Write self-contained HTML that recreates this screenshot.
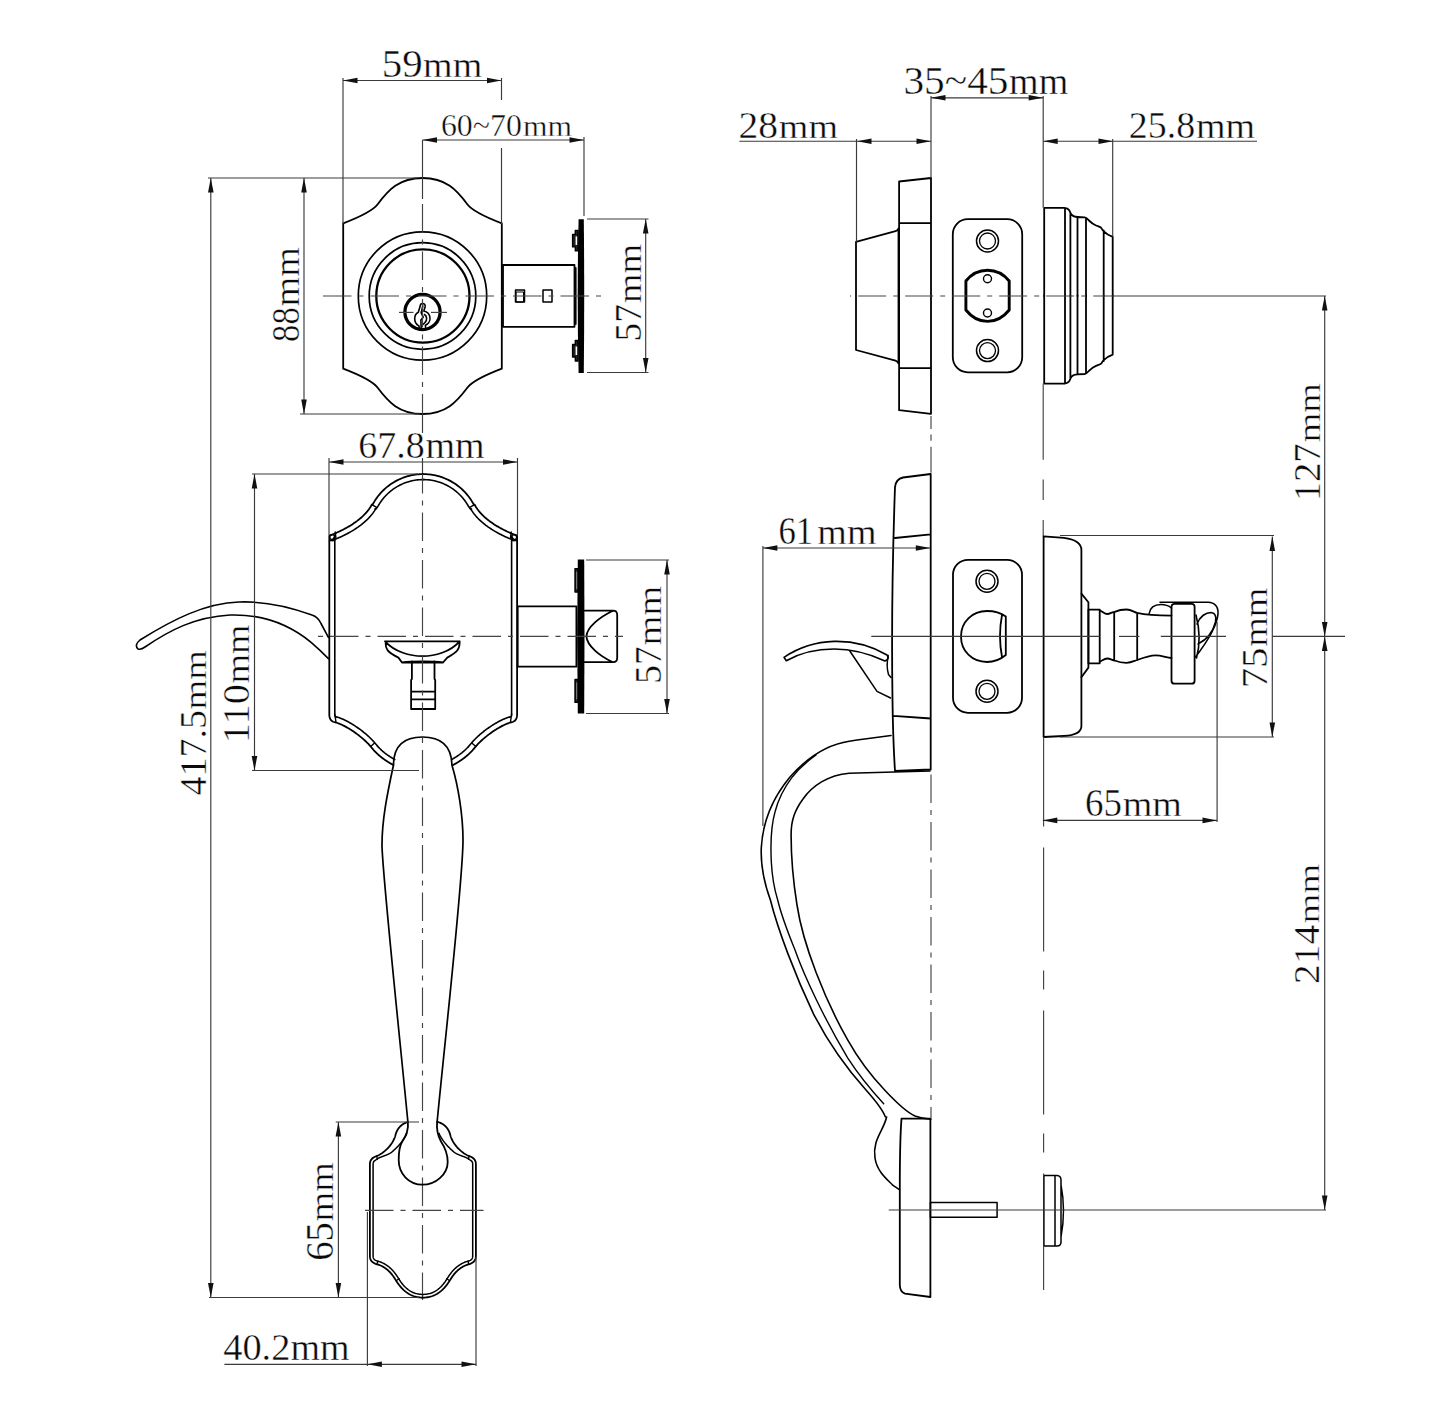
<!DOCTYPE html>
<html><head><meta charset="utf-8"><style>
html,body{margin:0;padding:0;background:#fff;}
svg{display:block;}
text{font-family:"Liberation Serif",serif;}
</style></head><body>
<svg width="1445" height="1411" viewBox="0 0 1445 1411">
<rect width="1445" height="1411" fill="#fff"/>
<path d="M 343.2 296 L 343.2 223.3 C 355.2 218.7 372.3 211.4 377.7 204.2 C 388.3 190 399 178 422.5 178" stroke="#000" stroke-width="1.8" fill="none" stroke-linejoin="round" stroke-linecap="round"/><g transform="matrix(1 0 0 -1 0 592)"><path d="M 343.2 296 L 343.2 223.3 C 355.2 218.7 372.3 211.4 377.7 204.2 C 388.3 190 399 178 422.5 178" stroke="#000" stroke-width="1.8" fill="none" stroke-linejoin="round" stroke-linecap="round"/></g>
<g transform="matrix(-1 0 0 1 845.0 0)"><path d="M 343.2 296 L 343.2 223.3 C 355.2 218.7 372.3 211.4 377.7 204.2 C 388.3 190 399 178 422.5 178" stroke="#000" stroke-width="1.8" fill="none" stroke-linejoin="round" stroke-linecap="round"/><g transform="matrix(1 0 0 -1 0 592)"><path d="M 343.2 296 L 343.2 223.3 C 355.2 218.7 372.3 211.4 377.7 204.2 C 388.3 190 399 178 422.5 178" stroke="#000" stroke-width="1.8" fill="none" stroke-linejoin="round" stroke-linecap="round"/></g></g>
<circle cx="422.5" cy="296" r="64.2" stroke="#000" stroke-width="1.7" fill="none" stroke-linejoin="round" stroke-linecap="round"/>
<circle cx="422.5" cy="296" r="53.3" stroke="#000" stroke-width="1.7" fill="none" stroke-linejoin="round" stroke-linecap="round"/>
<circle cx="422.9" cy="296" r="46.6" stroke="#000" stroke-width="2.3" fill="none" stroke-linejoin="round" stroke-linecap="round"/>
<circle cx="422.5" cy="312" r="17.6" stroke="#000" stroke-width="3.3" fill="none"/>
<path d="M 422.5 303.5 C 424.5 303.5 425.5 305 425.1 307 L 423.8 311 C 426 311.5 429.5 313.5 430 317.7 C 430.5 321 428 324 425.4 325.2 L 425.8 329.5 M 422.5 303.5 C 421 303.5 420.3 305 420.2 306 L 418.3 312.2 C 416.5 313 414.7 315 414.7 318.7 C 414.7 321.5 416.5 324.5 418.9 325.9 L 419.6 330.1 M 422.8 306 L 421.2 312.8 L 423.2 317.2 L 420.9 320 L 421.2 330.1 M 424.5 314.5 C 427 316 427.5 320 425 322.5 L 423 324.5" stroke="#000" stroke-width="1.6" fill="none" stroke-linejoin="round" stroke-linecap="round"/>
<rect x="503" y="265" width="71.5" height="61.8" stroke="#000" stroke-width="1.8" fill="none" stroke-linejoin="round" stroke-linecap="round"/>
<rect x="515.5" y="290" width="9" height="12" stroke="#000" stroke-width="1.5" fill="none" stroke-linejoin="round" stroke-linecap="round"/>
<rect x="516.5" y="292" width="7" height="10" stroke="#000" stroke-width="1" fill="none" stroke-linejoin="round" stroke-linecap="round"/>
<rect x="543" y="290" width="9" height="12" stroke="#000" stroke-width="1.5" fill="none" stroke-linejoin="round" stroke-linecap="round"/>
<line x1="575.7" y1="268" x2="575.7" y2="324" stroke="#000" stroke-width="1.8" fill="none" stroke-linejoin="round" stroke-linecap="round" />
<path d="M 578.6 219.3 Q 576.8 296 578.6 373 L 583.8 373 Q 584.6 296 583.8 219.3 Z" fill="#000"/>
<path d="M 578 230.4 L 575.3 230.4 L 575.3 234.4 L 572.6 234.4 L 572.6 246.9 L 575.3 246.9 L 575.3 250.9 L 578 250.9 Z" stroke="#000" stroke-width="1.4" stroke-linejoin="round" stroke-linecap="round" fill="#222"/>
<rect x="575.6" y="236.4" width="1.6" height="8.5" fill="#fff"/>
<path d="M 578 340.5 L 575.3 340.5 L 575.3 344.5 L 572.6 344.5 L 572.6 357 L 575.3 357 L 575.3 361 L 578 361 Z" stroke="#000" stroke-width="1.4" stroke-linejoin="round" stroke-linecap="round" fill="#222"/>
<rect x="575.6" y="346.5" width="1.6" height="8.5" fill="#fff"/>
<line x1="323" y1="296" x2="604" y2="296" stroke="#444" stroke-width="1.15" fill="none" stroke-dasharray="28.5 7 5 7" stroke-dashoffset="0.00"/>
<line x1="399" y1="312.4" x2="413.5" y2="312.4" stroke="#444" stroke-width="1.15" fill="none" />
<line x1="431" y1="312.4" x2="447" y2="312.4" stroke="#444" stroke-width="1.15" fill="none" />
<line x1="422.5" y1="140" x2="422.5" y2="199" stroke="#3a3a3a" stroke-width="1.15" fill="none" />
<line x1="422.5" y1="199" x2="422.5" y2="414" stroke="#444" stroke-width="1.15" fill="none" stroke-dasharray="28.5 7 5 7" stroke-dashoffset="42.50"/>
<line x1="422.5" y1="414" x2="422.5" y2="433" stroke="#3a3a3a" stroke-width="1.15" fill="none" />
<line x1="422.5" y1="458" x2="422.5" y2="474" stroke="#3a3a3a" stroke-width="1.15" fill="none" />
<line x1="343" y1="78" x2="343" y2="224" stroke="#3a3a3a" stroke-width="1.15" fill="none" />
<line x1="501.5" y1="78" x2="501.5" y2="100" stroke="#3a3a3a" stroke-width="1.15" fill="none" />
<line x1="501.5" y1="148" x2="501.5" y2="224" stroke="#3a3a3a" stroke-width="1.15" fill="none" />
<line x1="343" y1="80.5" x2="501.5" y2="80.5" stroke="#3a3a3a" stroke-width="1.15" fill="none" />
<polygon points="343.0,80.5 357.5,77.7 357.5,83.3" fill="#111"/>
<polygon points="501.5,80.5 487.0,77.7 487.0,83.3" fill="#111"/>
<text x="381.73" y="76.6" textLength="40.85" lengthAdjust="spacingAndGlyphs" fill="#0a0a0a" stroke="#fff" stroke-width="0.4"><tspan font-size="39.15">59</tspan></text>
<text x="423.10" y="76.6" textLength="59.19" lengthAdjust="spacingAndGlyphs" fill="#0a0a0a" stroke="#fff" stroke-width="0.4"><tspan font-size="36.31">mm</tspan></text>
<line x1="422.5" y1="140" x2="584" y2="140" stroke="#3a3a3a" stroke-width="1.15" fill="none" />
<polygon points="422.5,140.0 437.0,137.2 437.0,142.8" fill="#111"/>
<polygon points="584.0,140.0 569.5,137.2 569.5,142.8" fill="#111"/>
<line x1="584" y1="137" x2="584" y2="216" stroke="#3a3a3a" stroke-width="1.15" fill="none" />
<text x="440.93" y="136.1" textLength="80.88" lengthAdjust="spacingAndGlyphs" fill="#0a0a0a" stroke="#fff" stroke-width="0.4"><tspan font-size="31.41">60~70</tspan></text>
<text x="522.94" y="136.1" textLength="49.05" lengthAdjust="spacingAndGlyphs" fill="#0a0a0a" stroke="#fff" stroke-width="0.4"><tspan font-size="29.72">mm</tspan></text>
<line x1="304" y1="178" x2="304" y2="414" stroke="#3a3a3a" stroke-width="1.15" fill="none" />
<polygon points="304.0,178.0 301.2,192.5 306.8,192.5" fill="#111"/>
<polygon points="304.0,414.0 301.2,399.5 306.8,399.5" fill="#111"/>
<line x1="208" y1="178" x2="417" y2="178" stroke="#3a3a3a" stroke-width="1.15" fill="none" />
<line x1="300" y1="414" x2="420" y2="414" stroke="#3a3a3a" stroke-width="1.15" fill="none" />
<text transform="translate(299.3,340.6) rotate(-90)" x="-1.32" y="0" textLength="34.64" lengthAdjust="spacingAndGlyphs" fill="#0a0a0a" stroke="#fff" stroke-width="0.4"><tspan font-size="39.45">88</tspan></text>
<text transform="translate(299.3,340.6) rotate(-90)" x="34.20" y="0" textLength="59.19" lengthAdjust="spacingAndGlyphs" fill="#0a0a0a" stroke="#fff" stroke-width="0.4"><tspan font-size="34.82">mm</tspan></text>
<line x1="645.7" y1="219" x2="645.7" y2="372.5" stroke="#3a3a3a" stroke-width="1.15" fill="none" />
<polygon points="645.7,219.0 642.9,233.5 648.5,233.5" fill="#111"/>
<polygon points="645.7,372.5 642.9,358.0 648.5,358.0" fill="#111"/>
<line x1="587" y1="219" x2="648.5" y2="219" stroke="#3a3a3a" stroke-width="1.15" fill="none" />
<line x1="587" y1="372.5" x2="648.5" y2="372.5" stroke="#3a3a3a" stroke-width="1.15" fill="none" />
<text transform="translate(640.8,339.3) rotate(-90)" x="-2.17" y="0" textLength="37.35" lengthAdjust="spacingAndGlyphs" fill="#0a0a0a" stroke="#fff" stroke-width="0.4"><tspan font-size="38.39">57</tspan></text>
<text transform="translate(640.8,339.3) rotate(-90)" x="36.30" y="0" textLength="59.19" lengthAdjust="spacingAndGlyphs" fill="#0a0a0a" stroke="#fff" stroke-width="0.4"><tspan font-size="33.76">mm</tspan></text>
<path d="M 423.20 474.10 L 421.64 474.12 L 420.08 474.19 L 418.52 474.29 L 416.97 474.44 L 415.42 474.63 L 413.87 474.87 L 412.34 475.14 L 410.81 475.46 L 409.29 475.82 L 407.78 476.22 L 406.28 476.66 L 404.80 477.14 L 403.33 477.66 L 401.87 478.22 L 400.43 478.83 L 399.01 479.47 L 397.60 480.15 L 396.22 480.86 L 394.85 481.62 L 393.50 482.41 L 392.18 483.24 L 390.88 484.10 L 389.61 485.00 L 388.36 485.94 L 387.13 486.91 L 385.93 487.91 L 384.76 488.94 L 383.62 490.01 L 382.51 491.10 L 381.43 492.23 L 380.38 493.38 L 379.36 494.56 L 378.37 495.77 L 377.42 497.01 L 376.50 498.27 L 375.61 499.56 L 374.77 500.87 L 373.95 502.20 L 373.18 503.56 L 372.44 504.93 L 371.80 504.60 L 371.15 505.78 L 370.45 506.94 L 369.72 508.08 L 368.94 509.19 L 368.13 510.28 L 367.28 511.36 L 366.40 512.40 L 365.48 513.43 L 364.53 514.44 L 363.56 515.42 L 362.55 516.39 L 361.52 517.33 L 360.47 518.25 L 359.40 519.15 L 358.30 520.04 L 357.19 520.90 L 356.05 521.74 L 354.91 522.56 L 353.75 523.36 L 352.58 524.14 L 351.39 524.90 L 350.20 525.64 L 349.00 526.36 L 347.80 527.06 L 346.60 527.75 L 345.39 528.41 L 344.18 529.06 L 342.98 529.68 L 341.78 530.29 L 340.58 530.88 L 339.39 531.45 L 338.21 532.01 L 337.04 532.54 L 335.89 533.06 L 334.74 533.56 L 333.62 534.04 L 332.51 534.51 L 331.42 534.96 L 330.35 535.39 L 329.30 535.80 L 329.30 544.75 L 329.30 553.70 L 329.30 562.65 L 329.30 571.60 L 329.30 580.55 L 329.30 589.50 L 329.30 598.45 L 329.30 607.40 L 329.30 616.35 L 329.30 625.30 L 329.30 634.25 L 329.30 643.20 L 329.30 652.15 L 329.30 661.10 L 329.30 670.05 L 329.30 679.00 L 329.30 687.95 L 329.30 696.90 L 329.30 705.85 L 329.30 714.80 L 329.45 716.45 L 329.79 717.91 L 330.34 719.16 L 331.07 720.22 L 332.01 721.09 L 333.14 721.76 L 334.47 722.23 L 336.00 722.50 L 336.76 722.74 L 337.55 723.01 L 338.36 723.31 L 339.19 723.63 L 340.04 723.99 L 340.91 724.37 L 341.79 724.77 L 342.69 725.21 L 343.61 725.66 L 344.54 726.14 L 345.47 726.64 L 346.42 727.16 L 347.38 727.71 L 348.35 728.27 L 349.32 728.85 L 350.30 729.46 L 351.28 730.08 L 352.26 730.71 L 353.24 731.37 L 354.22 732.04 L 355.20 732.72 L 356.17 733.42 L 357.14 734.13 L 358.10 734.86 L 359.06 735.59 L 360.00 736.34 L 360.94 737.09 L 361.86 737.86 L 362.77 738.63 L 363.67 739.42 L 364.55 740.21 L 365.41 741.00 L 366.25 741.80 L 367.07 742.61 L 367.87 743.42 L 368.65 744.23 L 369.40 745.05 L 370.13 745.86 L 370.83 746.68 L 371.50 747.50 L 371.97 748.08 L 372.45 748.65 L 372.92 749.21 L 373.41 749.76 L 373.89 750.31 L 374.38 750.84 L 374.87 751.37 L 375.37 751.88 L 375.87 752.39 L 376.38 752.89 L 376.88 753.38 L 377.40 753.87 L 377.91 754.35 L 378.43 754.82 L 378.96 755.28 L 379.48 755.73 L 380.01 756.18 L 380.55 756.62 L 381.09 757.06 L 381.63 757.49 L 382.18 757.91 L 382.73 758.33 L 383.28 758.74 L 383.84 759.14 L 384.40 759.54 L 384.97 759.94 L 385.54 760.33 L 386.11 760.71 L 386.69 761.09 L 387.27 761.46 L 387.86 761.83 L 388.45 762.20 L 389.04 762.56 L 389.64 762.92 L 390.24 763.28 L 390.84 763.63 L 391.45 763.97 L 392.06 764.32 L 392.68 764.66 L 393.30 765.00" stroke="#000" stroke-width="1.8" fill="none" stroke-linejoin="round" stroke-linecap="round"/><path d="M 423.28 479.60 L 421.79 479.62 L 420.38 479.68 L 418.97 479.77 L 417.57 479.91 L 416.17 480.08 L 414.77 480.29 L 413.38 480.54 L 412.00 480.83 L 410.63 481.15 L 409.26 481.51 L 407.91 481.91 L 406.57 482.35 L 405.24 482.82 L 403.92 483.33 L 402.62 483.87 L 401.33 484.45 L 400.06 485.07 L 398.81 485.71 L 397.58 486.40 L 396.36 487.11 L 395.16 487.86 L 393.99 488.64 L 392.84 489.46 L 391.71 490.30 L 390.60 491.17 L 389.52 492.08 L 388.46 493.01 L 387.43 493.98 L 386.42 494.97 L 385.44 495.98 L 384.49 497.03 L 383.57 498.10 L 382.68 499.19 L 381.82 500.31 L 380.99 501.45 L 380.19 502.61 L 379.42 503.80 L 378.69 505.00 L 377.99 506.22 L 375.76 509.32 L 374.82 509.20 L 375.91 508.52 L 375.12 509.85 L 374.28 511.14 L 373.41 512.40 L 372.49 513.64 L 371.54 514.84 L 370.55 516.01 L 369.54 517.15 L 368.49 518.26 L 367.42 519.34 L 366.32 520.40 L 365.19 521.43 L 364.05 522.43 L 362.89 523.40 L 361.70 524.36 L 360.51 525.28 L 359.29 526.18 L 358.07 527.06 L 356.83 527.91 L 355.59 528.74 L 354.33 529.55 L 353.08 530.33 L 351.81 531.09 L 350.55 531.83 L 349.28 532.55 L 348.01 533.25 L 346.75 533.92 L 345.49 534.58 L 344.24 535.21 L 342.99 535.83 L 341.75 536.42 L 340.53 537.00 L 339.31 537.55 L 338.11 538.09 L 336.93 538.61 L 335.76 539.11 L 334.61 539.59 L 333.49 540.05 L 332.38 540.50 L 334.77 536.41 L 334.80 544.75 L 334.80 553.70 L 334.80 562.65 L 334.80 571.60 L 334.80 580.55 L 334.80 589.50 L 334.80 598.45 L 334.80 607.40 L 334.80 616.35 L 334.80 625.30 L 334.80 634.25 L 334.80 643.20 L 334.80 652.15 L 334.80 661.10 L 334.80 670.05 L 334.80 679.00 L 334.80 687.95 L 334.80 696.90 L 334.80 705.85 L 334.80 714.72 L 334.88 715.59 L 335.02 716.20 L 335.15 716.50 L 335.22 716.61 L 335.28 716.67 L 335.45 716.76 L 335.86 716.90 L 337.20 717.13 L 338.48 717.52 L 339.39 717.83 L 340.32 718.17 L 341.25 718.54 L 342.20 718.93 L 343.16 719.35 L 344.12 719.79 L 345.10 720.26 L 346.09 720.75 L 347.09 721.27 L 348.10 721.80 L 349.11 722.36 L 350.13 722.94 L 351.15 723.54 L 352.18 724.16 L 353.21 724.79 L 354.24 725.45 L 355.28 726.12 L 356.31 726.81 L 357.35 727.51 L 358.37 728.23 L 359.40 728.97 L 360.42 729.72 L 361.43 730.48 L 362.44 731.25 L 363.44 732.04 L 364.43 732.84 L 365.40 733.65 L 366.37 734.47 L 367.32 735.30 L 368.25 736.14 L 369.17 736.99 L 370.07 737.85 L 370.95 738.71 L 371.82 739.59 L 372.66 740.47 L 373.48 741.35 L 374.27 742.25 L 375.04 743.15 L 375.76 744.02 L 376.22 744.59 L 376.65 745.11 L 377.09 745.62 L 377.53 746.12 L 377.97 746.62 L 378.41 747.10 L 378.86 747.58 L 379.31 748.05 L 379.77 748.51 L 380.23 748.96 L 380.69 749.41 L 381.15 749.85 L 381.62 750.29 L 382.10 750.71 L 382.57 751.14 L 383.05 751.55 L 383.54 751.96 L 384.03 752.36 L 384.52 752.76 L 385.02 753.15 L 385.52 753.54 L 386.02 753.92 L 386.54 754.30 L 387.05 754.68 L 387.57 755.04 L 388.09 755.41 L 388.62 755.77 L 389.15 756.13 L 389.69 756.48 L 390.23 756.83 L 390.78 757.18 L 391.33 757.52 L 391.89 757.86 L 392.45 758.20 L 393.01 758.53 L 393.59 758.86 L 394.16 759.19 L 394.74 759.52" stroke="#000" stroke-width="1.6" fill="none" stroke-linejoin="round" stroke-linecap="round"/><path d="M 371.8 504.6 L 376.6 507.4 M 370.6 746.6 L 374.6 743 M 335.2 532 L 335.9 537.6 M 329.5 540.5 L 334.8 540.5 M 334.8 714 L 336 722.3" stroke="#000" stroke-width="1.4" fill="none" stroke-linejoin="round" stroke-linecap="round"/><circle cx="332.2" cy="537" r="2.5" stroke="#000" stroke-width="1.3" fill="none" stroke-linejoin="round" stroke-linecap="round"/>
<g transform="matrix(-1 0 0 1 846.4 0)"><path d="M 423.20 474.10 L 421.64 474.12 L 420.08 474.19 L 418.52 474.29 L 416.97 474.44 L 415.42 474.63 L 413.87 474.87 L 412.34 475.14 L 410.81 475.46 L 409.29 475.82 L 407.78 476.22 L 406.28 476.66 L 404.80 477.14 L 403.33 477.66 L 401.87 478.22 L 400.43 478.83 L 399.01 479.47 L 397.60 480.15 L 396.22 480.86 L 394.85 481.62 L 393.50 482.41 L 392.18 483.24 L 390.88 484.10 L 389.61 485.00 L 388.36 485.94 L 387.13 486.91 L 385.93 487.91 L 384.76 488.94 L 383.62 490.01 L 382.51 491.10 L 381.43 492.23 L 380.38 493.38 L 379.36 494.56 L 378.37 495.77 L 377.42 497.01 L 376.50 498.27 L 375.61 499.56 L 374.77 500.87 L 373.95 502.20 L 373.18 503.56 L 372.44 504.93 L 371.80 504.60 L 371.15 505.78 L 370.45 506.94 L 369.72 508.08 L 368.94 509.19 L 368.13 510.28 L 367.28 511.36 L 366.40 512.40 L 365.48 513.43 L 364.53 514.44 L 363.56 515.42 L 362.55 516.39 L 361.52 517.33 L 360.47 518.25 L 359.40 519.15 L 358.30 520.04 L 357.19 520.90 L 356.05 521.74 L 354.91 522.56 L 353.75 523.36 L 352.58 524.14 L 351.39 524.90 L 350.20 525.64 L 349.00 526.36 L 347.80 527.06 L 346.60 527.75 L 345.39 528.41 L 344.18 529.06 L 342.98 529.68 L 341.78 530.29 L 340.58 530.88 L 339.39 531.45 L 338.21 532.01 L 337.04 532.54 L 335.89 533.06 L 334.74 533.56 L 333.62 534.04 L 332.51 534.51 L 331.42 534.96 L 330.35 535.39 L 329.30 535.80 L 329.30 544.75 L 329.30 553.70 L 329.30 562.65 L 329.30 571.60 L 329.30 580.55 L 329.30 589.50 L 329.30 598.45 L 329.30 607.40 L 329.30 616.35 L 329.30 625.30 L 329.30 634.25 L 329.30 643.20 L 329.30 652.15 L 329.30 661.10 L 329.30 670.05 L 329.30 679.00 L 329.30 687.95 L 329.30 696.90 L 329.30 705.85 L 329.30 714.80 L 329.45 716.45 L 329.79 717.91 L 330.34 719.16 L 331.07 720.22 L 332.01 721.09 L 333.14 721.76 L 334.47 722.23 L 336.00 722.50 L 336.76 722.74 L 337.55 723.01 L 338.36 723.31 L 339.19 723.63 L 340.04 723.99 L 340.91 724.37 L 341.79 724.77 L 342.69 725.21 L 343.61 725.66 L 344.54 726.14 L 345.47 726.64 L 346.42 727.16 L 347.38 727.71 L 348.35 728.27 L 349.32 728.85 L 350.30 729.46 L 351.28 730.08 L 352.26 730.71 L 353.24 731.37 L 354.22 732.04 L 355.20 732.72 L 356.17 733.42 L 357.14 734.13 L 358.10 734.86 L 359.06 735.59 L 360.00 736.34 L 360.94 737.09 L 361.86 737.86 L 362.77 738.63 L 363.67 739.42 L 364.55 740.21 L 365.41 741.00 L 366.25 741.80 L 367.07 742.61 L 367.87 743.42 L 368.65 744.23 L 369.40 745.05 L 370.13 745.86 L 370.83 746.68 L 371.50 747.50 L 371.97 748.08 L 372.45 748.65 L 372.92 749.21 L 373.41 749.76 L 373.89 750.31 L 374.38 750.84 L 374.87 751.37 L 375.37 751.88 L 375.87 752.39 L 376.38 752.89 L 376.88 753.38 L 377.40 753.87 L 377.91 754.35 L 378.43 754.82 L 378.96 755.28 L 379.48 755.73 L 380.01 756.18 L 380.55 756.62 L 381.09 757.06 L 381.63 757.49 L 382.18 757.91 L 382.73 758.33 L 383.28 758.74 L 383.84 759.14 L 384.40 759.54 L 384.97 759.94 L 385.54 760.33 L 386.11 760.71 L 386.69 761.09 L 387.27 761.46 L 387.86 761.83 L 388.45 762.20 L 389.04 762.56 L 389.64 762.92 L 390.24 763.28 L 390.84 763.63 L 391.45 763.97 L 392.06 764.32 L 392.68 764.66 L 393.30 765.00" stroke="#000" stroke-width="1.8" fill="none" stroke-linejoin="round" stroke-linecap="round"/><path d="M 423.28 479.60 L 421.79 479.62 L 420.38 479.68 L 418.97 479.77 L 417.57 479.91 L 416.17 480.08 L 414.77 480.29 L 413.38 480.54 L 412.00 480.83 L 410.63 481.15 L 409.26 481.51 L 407.91 481.91 L 406.57 482.35 L 405.24 482.82 L 403.92 483.33 L 402.62 483.87 L 401.33 484.45 L 400.06 485.07 L 398.81 485.71 L 397.58 486.40 L 396.36 487.11 L 395.16 487.86 L 393.99 488.64 L 392.84 489.46 L 391.71 490.30 L 390.60 491.17 L 389.52 492.08 L 388.46 493.01 L 387.43 493.98 L 386.42 494.97 L 385.44 495.98 L 384.49 497.03 L 383.57 498.10 L 382.68 499.19 L 381.82 500.31 L 380.99 501.45 L 380.19 502.61 L 379.42 503.80 L 378.69 505.00 L 377.99 506.22 L 375.76 509.32 L 374.82 509.20 L 375.91 508.52 L 375.12 509.85 L 374.28 511.14 L 373.41 512.40 L 372.49 513.64 L 371.54 514.84 L 370.55 516.01 L 369.54 517.15 L 368.49 518.26 L 367.42 519.34 L 366.32 520.40 L 365.19 521.43 L 364.05 522.43 L 362.89 523.40 L 361.70 524.36 L 360.51 525.28 L 359.29 526.18 L 358.07 527.06 L 356.83 527.91 L 355.59 528.74 L 354.33 529.55 L 353.08 530.33 L 351.81 531.09 L 350.55 531.83 L 349.28 532.55 L 348.01 533.25 L 346.75 533.92 L 345.49 534.58 L 344.24 535.21 L 342.99 535.83 L 341.75 536.42 L 340.53 537.00 L 339.31 537.55 L 338.11 538.09 L 336.93 538.61 L 335.76 539.11 L 334.61 539.59 L 333.49 540.05 L 332.38 540.50 L 334.77 536.41 L 334.80 544.75 L 334.80 553.70 L 334.80 562.65 L 334.80 571.60 L 334.80 580.55 L 334.80 589.50 L 334.80 598.45 L 334.80 607.40 L 334.80 616.35 L 334.80 625.30 L 334.80 634.25 L 334.80 643.20 L 334.80 652.15 L 334.80 661.10 L 334.80 670.05 L 334.80 679.00 L 334.80 687.95 L 334.80 696.90 L 334.80 705.85 L 334.80 714.72 L 334.88 715.59 L 335.02 716.20 L 335.15 716.50 L 335.22 716.61 L 335.28 716.67 L 335.45 716.76 L 335.86 716.90 L 337.20 717.13 L 338.48 717.52 L 339.39 717.83 L 340.32 718.17 L 341.25 718.54 L 342.20 718.93 L 343.16 719.35 L 344.12 719.79 L 345.10 720.26 L 346.09 720.75 L 347.09 721.27 L 348.10 721.80 L 349.11 722.36 L 350.13 722.94 L 351.15 723.54 L 352.18 724.16 L 353.21 724.79 L 354.24 725.45 L 355.28 726.12 L 356.31 726.81 L 357.35 727.51 L 358.37 728.23 L 359.40 728.97 L 360.42 729.72 L 361.43 730.48 L 362.44 731.25 L 363.44 732.04 L 364.43 732.84 L 365.40 733.65 L 366.37 734.47 L 367.32 735.30 L 368.25 736.14 L 369.17 736.99 L 370.07 737.85 L 370.95 738.71 L 371.82 739.59 L 372.66 740.47 L 373.48 741.35 L 374.27 742.25 L 375.04 743.15 L 375.76 744.02 L 376.22 744.59 L 376.65 745.11 L 377.09 745.62 L 377.53 746.12 L 377.97 746.62 L 378.41 747.10 L 378.86 747.58 L 379.31 748.05 L 379.77 748.51 L 380.23 748.96 L 380.69 749.41 L 381.15 749.85 L 381.62 750.29 L 382.10 750.71 L 382.57 751.14 L 383.05 751.55 L 383.54 751.96 L 384.03 752.36 L 384.52 752.76 L 385.02 753.15 L 385.52 753.54 L 386.02 753.92 L 386.54 754.30 L 387.05 754.68 L 387.57 755.04 L 388.09 755.41 L 388.62 755.77 L 389.15 756.13 L 389.69 756.48 L 390.23 756.83 L 390.78 757.18 L 391.33 757.52 L 391.89 757.86 L 392.45 758.20 L 393.01 758.53 L 393.59 758.86 L 394.16 759.19 L 394.74 759.52" stroke="#000" stroke-width="1.6" fill="none" stroke-linejoin="round" stroke-linecap="round"/><path d="M 371.8 504.6 L 376.6 507.4 M 370.6 746.6 L 374.6 743 M 335.2 532 L 335.9 537.6 M 329.5 540.5 L 334.8 540.5 M 334.8 714 L 336 722.3" stroke="#000" stroke-width="1.4" fill="none" stroke-linejoin="round" stroke-linecap="round"/><circle cx="332.2" cy="537" r="2.5" stroke="#000" stroke-width="1.3" fill="none" stroke-linejoin="round" stroke-linecap="round"/></g>
<path d="M 328.4 637.3 L 321 623.5 Q 318 617 312 615 C 290 607 265 601 239 602 C 205 603 172 620 140 640 Q 134 645 138 649 Q 141 650 145 647 C 170 630 195 617 230 615 C 262 614 290 625 311.4 642.6 Q 320 650 328.4 658.6" stroke="#000" stroke-width="1.6" fill="none" stroke-linejoin="round" stroke-linecap="round"/>
<path d="M 393.5 765 C 393.5 745 404 737 422.5 737 C 441 737 451.5 745 451.9 765 C 458 785 463 815 463 840 C 463 880 445 1040 437.1 1122 M 393.5 765 C 387 795 382 820 382 845 C 382 870 400 1040 407.9 1122" stroke="#000" stroke-width="1.7" fill="none" stroke-linejoin="round" stroke-linecap="round"/>
<path d="M 385 641.3 L 459.7 641.3 M 385 641.3 C 395 652 410 656.2 422.5 656.2 C 435 656.2 450 652 459.7 641.3 M 385.6 642.7 C 385.5 649 387 652 398.4 657.6 L 402 662.5 L 443 662.5 L 447.3 657.6 C 458 652 459.5 649 459.7 642 M 402 662.5 C 410 661.5 415 661.5 422.5 661.5 C 430 661.5 436 661.5 443 662.5" stroke="#000" stroke-width="1.8" fill="none" stroke-linejoin="round" stroke-linecap="round" />
<path d="M 411.9 661.5 L 411.9 679 L 411.1 680 L 411.1 709 L 435.2 709 L 435.2 680 L 434.5 679 L 434.5 661.5 M 411.1 691.6 L 435.2 691.6 M 411.1 699.4 L 435.2 699.4" stroke="#000" stroke-width="1.8" fill="none" stroke-linejoin="round" stroke-linecap="round" />
<rect x="517.7" y="606.3" width="58.7" height="60.4" stroke="#000" stroke-width="1.8" fill="none" stroke-linejoin="round" stroke-linecap="round"/>
<path d="M 577.8 559.5 Q 576.5 636 577.8 713.6 L 584.2 713.6 Q 584.8 636 584.2 559.5 Z" fill="#000"/>
<path d="M 578 568.6 L 575 568.6 L 575 592.1 L 578 592.1 Z" stroke="#000" stroke-width="1.4" stroke-linejoin="round" stroke-linecap="round" fill="#222"/>
<rect x="576" y="571.6" width="1.2" height="17.5" fill="#777"/>
<path d="M 578 679.5 L 575 679.5 L 575 702.4 L 578 702.4 Z" stroke="#000" stroke-width="1.4" stroke-linejoin="round" stroke-linecap="round" fill="#222"/>
<rect x="576" y="682.5" width="1.2" height="16.899999999999977" fill="#777"/>
<path d="M 584.3 610.7 L 613 610.7 Q 617.2 610.7 617.2 615 L 617.2 658 Q 617.2 662.1 613 662.1 L 584.3 662.1 M 612.5 611 C 600 617 587 627 586.4 636.4 C 587 646 600 656 612.5 662" stroke="#000" stroke-width="1.8" fill="none" stroke-linejoin="round" stroke-linecap="round" />
<line x1="314" y1="636.3" x2="623" y2="636.3" stroke="#444" stroke-width="1.15" fill="none" stroke-dasharray="28.5 7 5 7" stroke-dashoffset="31.50"/>
<line x1="422.5" y1="474" x2="422.5" y2="1300" stroke="#444" stroke-width="1.15" fill="none" stroke-dasharray="28.5 7 5 7" stroke-dashoffset="9.00"/>
<line x1="329" y1="462" x2="517.5" y2="462" stroke="#3a3a3a" stroke-width="1.15" fill="none" />
<polygon points="329.0,462.0 343.5,459.2 343.5,464.8" fill="#111"/>
<polygon points="517.5,462.0 503.0,459.2 503.0,464.8" fill="#111"/>
<line x1="329" y1="458" x2="329" y2="535" stroke="#3a3a3a" stroke-width="1.15" fill="none" />
<line x1="517.5" y1="458" x2="517.5" y2="535" stroke="#3a3a3a" stroke-width="1.15" fill="none" />
<text x="358.37" y="457.6" textLength="66.27" lengthAdjust="spacingAndGlyphs" fill="#0a0a0a" stroke="#fff" stroke-width="0.4"><tspan font-size="38.85">67.8</tspan></text>
<text x="425.40" y="457.6" textLength="59.19" lengthAdjust="spacingAndGlyphs" fill="#0a0a0a" stroke="#fff" stroke-width="0.4"><tspan font-size="37.37">mm</tspan></text>
<line x1="254.5" y1="474" x2="254.5" y2="770.5" stroke="#3a3a3a" stroke-width="1.15" fill="none" />
<polygon points="254.5,474.0 251.7,488.5 257.3,488.5" fill="#111"/>
<polygon points="254.5,770.5 251.7,756.0 257.3,756.0" fill="#111"/>
<line x1="252" y1="474" x2="418" y2="474" stroke="#3a3a3a" stroke-width="1.15" fill="none" />
<line x1="252" y1="770.5" x2="419" y2="770.5" stroke="#3a3a3a" stroke-width="1.15" fill="none" />
<text transform="translate(249.4,739.7) rotate(-90)" x="-3.45" y="0" textLength="58.95" lengthAdjust="spacingAndGlyphs" fill="#0a0a0a" stroke="#fff" stroke-width="0.4"><tspan font-size="37.18">110</tspan></text>
<text transform="translate(249.4,739.7) rotate(-90)" x="56.20" y="0" textLength="59.19" lengthAdjust="spacingAndGlyphs" fill="#0a0a0a" stroke="#fff" stroke-width="0.4"><tspan font-size="32.91">mm</tspan></text>
<line x1="667" y1="560" x2="667" y2="713.5" stroke="#3a3a3a" stroke-width="1.15" fill="none" />
<polygon points="667.0,560.0 664.2,574.5 669.8,574.5" fill="#111"/>
<polygon points="667.0,713.5 664.2,699.0 669.8,699.0" fill="#111"/>
<line x1="586" y1="560" x2="669" y2="560" stroke="#3a3a3a" stroke-width="1.15" fill="none" />
<line x1="586" y1="713.5" x2="669" y2="713.5" stroke="#3a3a3a" stroke-width="1.15" fill="none" />
<text transform="translate(660.7,681.9) rotate(-90)" x="-2.20" y="0" textLength="37.78" lengthAdjust="spacingAndGlyphs" fill="#0a0a0a" stroke="#fff" stroke-width="0.4"><tspan font-size="38.24">57</tspan></text>
<text transform="translate(660.7,681.9) rotate(-90)" x="36.70" y="0" textLength="59.19" lengthAdjust="spacingAndGlyphs" fill="#0a0a0a" stroke="#fff" stroke-width="0.4"><tspan font-size="34.39">mm</tspan></text>
<line x1="210.8" y1="178" x2="210.8" y2="1297.5" stroke="#3a3a3a" stroke-width="1.15" fill="none" />
<polygon points="210.8,178.0 208.0,192.5 213.6,192.5" fill="#111"/>
<polygon points="210.8,1297.5 208.0,1283.0 213.6,1283.0" fill="#111"/>
<text transform="translate(205.6,794.7) rotate(-90)" x="-0.74" y="0" textLength="85.32" lengthAdjust="spacingAndGlyphs" fill="#0a0a0a" stroke="#fff" stroke-width="0.4"><tspan font-size="37.03">417.5</tspan></text>
<text transform="translate(205.6,794.7) rotate(-90)" x="85.30" y="0" textLength="59.19" lengthAdjust="spacingAndGlyphs" fill="#0a0a0a" stroke="#fff" stroke-width="0.4"><tspan font-size="31.63">mm</tspan></text>
<path d="M 407.90 1122.00 L 407.39 1122.16 L 406.89 1122.32 L 406.40 1122.50 L 405.92 1122.69 L 405.45 1122.89 L 404.99 1123.10 L 404.54 1123.31 L 404.10 1123.54 L 403.68 1123.78 L 403.26 1124.03 L 402.86 1124.29 L 402.46 1124.56 L 402.08 1124.83 L 401.70 1125.12 L 401.34 1125.41 L 400.99 1125.71 L 400.64 1126.02 L 400.31 1126.34 L 399.99 1126.67 L 399.68 1127.00 L 399.37 1127.34 L 399.08 1127.69 L 398.80 1128.05 L 398.53 1128.41 L 398.26 1128.78 L 398.01 1129.15 L 397.77 1129.54 L 397.54 1129.92 L 397.31 1130.32 L 397.10 1130.72 L 396.90 1131.12 L 396.70 1131.54 L 396.52 1131.95 L 396.35 1132.37 L 396.18 1132.80 L 396.03 1133.23 L 395.88 1133.67 L 395.74 1134.11 L 395.62 1134.55 L 395.50 1135.00 L 395.34 1135.60 L 395.16 1136.21 L 394.96 1136.81 L 394.74 1137.42 L 394.50 1138.03 L 394.24 1138.65 L 393.97 1139.26 L 393.67 1139.87 L 393.36 1140.48 L 393.03 1141.09 L 392.69 1141.70 L 392.33 1142.31 L 391.95 1142.91 L 391.55 1143.51 L 391.15 1144.10 L 390.72 1144.69 L 390.28 1145.27 L 389.83 1145.85 L 389.37 1146.42 L 388.89 1146.99 L 388.40 1147.54 L 387.89 1148.09 L 387.37 1148.63 L 386.85 1149.16 L 386.31 1149.68 L 385.75 1150.19 L 385.19 1150.69 L 384.62 1151.18 L 384.04 1151.65 L 383.45 1152.11 L 382.85 1152.56 L 382.24 1153.00 L 381.62 1153.42 L 381.00 1153.82 L 380.36 1154.21 L 379.72 1154.58 L 379.08 1154.94 L 378.42 1155.28 L 377.76 1155.60 L 377.10 1155.90 L 375.43 1156.49 L 373.99 1157.19 L 372.76 1158.02 L 371.75 1158.97 L 370.96 1160.05 L 370.39 1161.24 L 370.03 1162.56 L 369.90 1164.00 L 369.90 1168.61 L 369.90 1173.22 L 369.90 1177.83 L 369.90 1182.44 L 369.90 1187.05 L 369.90 1191.66 L 369.90 1196.27 L 369.90 1200.88 L 369.90 1205.49 L 369.90 1210.10 L 369.90 1214.71 L 369.90 1219.32 L 369.90 1223.93 L 369.90 1228.54 L 369.90 1233.15 L 369.90 1237.76 L 369.90 1242.37 L 369.90 1246.98 L 369.90 1251.59 L 369.90 1256.20 L 370.03 1257.70 L 370.39 1259.07 L 370.96 1260.29 L 371.75 1261.38 L 372.76 1262.32 L 373.99 1263.12 L 375.43 1263.78 L 377.10 1264.30 L 377.69 1264.47 L 378.27 1264.65 L 378.85 1264.85 L 379.41 1265.06 L 379.98 1265.28 L 380.53 1265.51 L 381.08 1265.76 L 381.62 1266.01 L 382.15 1266.28 L 382.68 1266.56 L 383.21 1266.86 L 383.72 1267.16 L 384.23 1267.48 L 384.74 1267.81 L 385.23 1268.15 L 385.73 1268.50 L 386.21 1268.87 L 386.69 1269.25 L 387.17 1269.64 L 387.64 1270.04 L 388.10 1270.45 L 388.56 1270.87 L 389.01 1271.31 L 389.46 1271.76 L 389.91 1272.22 L 390.34 1272.69 L 390.78 1273.17 L 391.21 1273.67 L 391.63 1274.17 L 392.05 1274.69 L 392.46 1275.22 L 392.87 1275.76 L 393.28 1276.31 L 393.68 1276.88 L 394.08 1277.45 L 394.47 1278.04 L 394.86 1278.64 L 395.24 1279.25 L 395.62 1279.87 L 396.00 1280.50 L 396.45 1281.21 L 396.92 1281.91 L 397.38 1282.60 L 397.86 1283.29 L 398.35 1283.96 L 398.84 1284.63 L 399.35 1285.28 L 399.86 1285.93 L 400.39 1286.56 L 400.92 1287.18 L 401.46 1287.79 L 402.02 1288.38 L 402.58 1288.96 L 403.16 1289.53 L 403.75 1290.09 L 404.35 1290.62 L 404.96 1291.15 L 405.58 1291.65 L 406.21 1292.14 L 406.86 1292.61 L 407.52 1293.07 L 408.20 1293.50 L 408.89 1293.92 L 409.59 1294.32 L 410.30 1294.69 L 411.03 1295.05 L 411.78 1295.39 L 412.53 1295.70 L 413.31 1295.99 L 414.10 1296.26 L 414.90 1296.51 L 415.72 1296.73 L 416.56 1296.93 L 417.42 1297.11 L 418.29 1297.25 L 419.17 1297.38 L 420.08 1297.47 L 421.00 1297.54 L 421.94 1297.59 L 422.90 1297.60" stroke="#000" stroke-width="1.8" fill="none" stroke-linejoin="round" stroke-linecap="round"/><path d="M 406.80 1133.40 L 406.58 1133.90 L 406.36 1134.39 L 406.12 1134.89 L 405.87 1135.39 L 405.61 1135.89 L 405.33 1136.39 L 405.05 1136.89 L 404.76 1137.39 L 404.45 1137.89 L 404.14 1138.39 L 403.82 1138.89 L 403.49 1139.39 L 403.15 1139.89 L 402.80 1140.39 L 402.44 1140.88 L 402.08 1141.38 L 401.70 1141.87 L 401.32 1142.36 L 400.93 1142.85 L 400.54 1143.34 L 400.13 1143.82 L 399.73 1144.30 L 399.31 1144.78 L 398.89 1145.26 L 398.46 1145.73 L 398.03 1146.20 L 397.59 1146.67 L 397.14 1147.13 L 396.69 1147.59 L 396.24 1148.04 L 395.78 1148.49 L 395.32 1148.93 L 394.85 1149.37 L 394.38 1149.81 L 393.91 1150.24 L 393.43 1150.66 L 392.95 1151.08 L 392.47 1151.49 L 391.99 1151.90 L 391.50 1152.30 L 391.08 1152.57 L 390.66 1152.84 L 390.24 1153.09 L 389.81 1153.33 L 389.38 1153.57 L 388.94 1153.80 L 388.51 1154.02 L 388.07 1154.23 L 387.63 1154.44 L 387.19 1154.63 L 386.75 1154.83 L 386.31 1155.01 L 385.87 1155.20 L 385.43 1155.37 L 385.00 1155.54 L 384.56 1155.71 L 384.14 1155.88 L 383.71 1156.04 L 383.29 1156.20 L 382.88 1156.35 L 382.47 1156.50 L 382.06 1156.65 L 381.67 1156.80 L 381.28 1156.95 L 380.89 1157.10 L 380.52 1157.25 L 380.16 1157.39 L 379.80 1157.54 L 379.46 1157.69 L 379.12 1157.84 L 378.80 1157.99 L 378.49 1158.15 L 378.19 1158.30 L 377.91 1158.46 L 377.64 1158.62 L 377.38 1158.79 L 377.14 1158.96 L 376.91 1159.14 L 376.70 1159.32 L 376.50 1159.50 L 375.17 1160.46 L 373.85 1161.43 L 373.39 1162.35 L 373.19 1163.12 L 373.10 1164.07 L 373.10 1168.61 L 373.10 1173.22 L 373.10 1177.83 L 373.10 1182.44 L 373.10 1187.05 L 373.10 1191.66 L 373.10 1196.27 L 373.10 1200.88 L 373.10 1205.49 L 373.10 1210.10 L 373.10 1214.71 L 373.10 1219.32 L 373.10 1223.93 L 373.10 1228.54 L 373.10 1233.15 L 373.10 1237.76 L 373.10 1242.37 L 373.10 1246.98 L 373.10 1251.59 L 373.10 1256.13 L 373.19 1257.17 L 373.40 1257.99 L 373.71 1258.66 L 374.14 1259.25 L 374.73 1259.79 L 375.52 1260.31 L 376.57 1260.79 L 378.04 1261.24 L 378.62 1261.41 L 379.27 1261.61 L 379.91 1261.83 L 380.55 1262.07 L 381.18 1262.31 L 381.80 1262.58 L 382.42 1262.85 L 383.02 1263.14 L 383.63 1263.44 L 384.22 1263.76 L 384.80 1264.09 L 385.38 1264.43 L 385.95 1264.78 L 386.52 1265.15 L 387.07 1265.53 L 387.62 1265.93 L 388.16 1266.33 L 388.69 1266.75 L 389.22 1267.18 L 389.74 1267.63 L 390.25 1268.08 L 390.76 1268.55 L 391.25 1269.03 L 391.75 1269.52 L 392.23 1270.02 L 392.71 1270.53 L 393.18 1271.06 L 393.64 1271.59 L 394.10 1272.14 L 394.55 1272.70 L 395.00 1273.27 L 395.44 1273.85 L 395.87 1274.44 L 396.30 1275.04 L 396.72 1275.65 L 397.14 1276.28 L 397.55 1276.91 L 397.96 1277.56 L 398.36 1278.21 L 398.72 1278.81 L 399.14 1279.47 L 399.58 1280.13 L 400.02 1280.79 L 400.47 1281.44 L 400.93 1282.07 L 401.40 1282.70 L 401.87 1283.31 L 402.35 1283.91 L 402.83 1284.50 L 403.33 1285.07 L 403.83 1285.63 L 404.34 1286.18 L 404.85 1286.71 L 405.38 1287.23 L 405.91 1287.73 L 406.45 1288.22 L 407.01 1288.69 L 407.56 1289.14 L 408.13 1289.58 L 408.71 1290.00 L 409.30 1290.40 L 409.90 1290.79 L 410.50 1291.16 L 411.12 1291.51 L 411.75 1291.84 L 412.39 1292.16 L 413.05 1292.45 L 413.71 1292.73 L 414.39 1292.98 L 415.08 1293.22 L 415.79 1293.44 L 416.51 1293.63 L 417.25 1293.81 L 418.00 1293.96 L 418.77 1294.09 L 419.56 1294.20 L 420.37 1294.29 L 421.19 1294.35 L 422.04 1294.39 L 422.95 1294.40" stroke="#000" stroke-width="1.5" fill="none" stroke-linejoin="round" stroke-linecap="round"/><path d="M 376.6 1155.9 L 377.4 1159.3 M 376.8 1264.5 L 377.8 1261.2 M 396.6 1280.5 L 399.2 1278.6" stroke="#000" stroke-width="1.3" fill="none" stroke-linejoin="round" stroke-linecap="round"/>
<g transform="matrix(-1 0 0 1 845.8 0)"><path d="M 407.90 1122.00 L 407.39 1122.16 L 406.89 1122.32 L 406.40 1122.50 L 405.92 1122.69 L 405.45 1122.89 L 404.99 1123.10 L 404.54 1123.31 L 404.10 1123.54 L 403.68 1123.78 L 403.26 1124.03 L 402.86 1124.29 L 402.46 1124.56 L 402.08 1124.83 L 401.70 1125.12 L 401.34 1125.41 L 400.99 1125.71 L 400.64 1126.02 L 400.31 1126.34 L 399.99 1126.67 L 399.68 1127.00 L 399.37 1127.34 L 399.08 1127.69 L 398.80 1128.05 L 398.53 1128.41 L 398.26 1128.78 L 398.01 1129.15 L 397.77 1129.54 L 397.54 1129.92 L 397.31 1130.32 L 397.10 1130.72 L 396.90 1131.12 L 396.70 1131.54 L 396.52 1131.95 L 396.35 1132.37 L 396.18 1132.80 L 396.03 1133.23 L 395.88 1133.67 L 395.74 1134.11 L 395.62 1134.55 L 395.50 1135.00 L 395.34 1135.60 L 395.16 1136.21 L 394.96 1136.81 L 394.74 1137.42 L 394.50 1138.03 L 394.24 1138.65 L 393.97 1139.26 L 393.67 1139.87 L 393.36 1140.48 L 393.03 1141.09 L 392.69 1141.70 L 392.33 1142.31 L 391.95 1142.91 L 391.55 1143.51 L 391.15 1144.10 L 390.72 1144.69 L 390.28 1145.27 L 389.83 1145.85 L 389.37 1146.42 L 388.89 1146.99 L 388.40 1147.54 L 387.89 1148.09 L 387.37 1148.63 L 386.85 1149.16 L 386.31 1149.68 L 385.75 1150.19 L 385.19 1150.69 L 384.62 1151.18 L 384.04 1151.65 L 383.45 1152.11 L 382.85 1152.56 L 382.24 1153.00 L 381.62 1153.42 L 381.00 1153.82 L 380.36 1154.21 L 379.72 1154.58 L 379.08 1154.94 L 378.42 1155.28 L 377.76 1155.60 L 377.10 1155.90 L 375.43 1156.49 L 373.99 1157.19 L 372.76 1158.02 L 371.75 1158.97 L 370.96 1160.05 L 370.39 1161.24 L 370.03 1162.56 L 369.90 1164.00 L 369.90 1168.61 L 369.90 1173.22 L 369.90 1177.83 L 369.90 1182.44 L 369.90 1187.05 L 369.90 1191.66 L 369.90 1196.27 L 369.90 1200.88 L 369.90 1205.49 L 369.90 1210.10 L 369.90 1214.71 L 369.90 1219.32 L 369.90 1223.93 L 369.90 1228.54 L 369.90 1233.15 L 369.90 1237.76 L 369.90 1242.37 L 369.90 1246.98 L 369.90 1251.59 L 369.90 1256.20 L 370.03 1257.70 L 370.39 1259.07 L 370.96 1260.29 L 371.75 1261.38 L 372.76 1262.32 L 373.99 1263.12 L 375.43 1263.78 L 377.10 1264.30 L 377.69 1264.47 L 378.27 1264.65 L 378.85 1264.85 L 379.41 1265.06 L 379.98 1265.28 L 380.53 1265.51 L 381.08 1265.76 L 381.62 1266.01 L 382.15 1266.28 L 382.68 1266.56 L 383.21 1266.86 L 383.72 1267.16 L 384.23 1267.48 L 384.74 1267.81 L 385.23 1268.15 L 385.73 1268.50 L 386.21 1268.87 L 386.69 1269.25 L 387.17 1269.64 L 387.64 1270.04 L 388.10 1270.45 L 388.56 1270.87 L 389.01 1271.31 L 389.46 1271.76 L 389.91 1272.22 L 390.34 1272.69 L 390.78 1273.17 L 391.21 1273.67 L 391.63 1274.17 L 392.05 1274.69 L 392.46 1275.22 L 392.87 1275.76 L 393.28 1276.31 L 393.68 1276.88 L 394.08 1277.45 L 394.47 1278.04 L 394.86 1278.64 L 395.24 1279.25 L 395.62 1279.87 L 396.00 1280.50 L 396.45 1281.21 L 396.92 1281.91 L 397.38 1282.60 L 397.86 1283.29 L 398.35 1283.96 L 398.84 1284.63 L 399.35 1285.28 L 399.86 1285.93 L 400.39 1286.56 L 400.92 1287.18 L 401.46 1287.79 L 402.02 1288.38 L 402.58 1288.96 L 403.16 1289.53 L 403.75 1290.09 L 404.35 1290.62 L 404.96 1291.15 L 405.58 1291.65 L 406.21 1292.14 L 406.86 1292.61 L 407.52 1293.07 L 408.20 1293.50 L 408.89 1293.92 L 409.59 1294.32 L 410.30 1294.69 L 411.03 1295.05 L 411.78 1295.39 L 412.53 1295.70 L 413.31 1295.99 L 414.10 1296.26 L 414.90 1296.51 L 415.72 1296.73 L 416.56 1296.93 L 417.42 1297.11 L 418.29 1297.25 L 419.17 1297.38 L 420.08 1297.47 L 421.00 1297.54 L 421.94 1297.59 L 422.90 1297.60" stroke="#000" stroke-width="1.8" fill="none" stroke-linejoin="round" stroke-linecap="round"/><path d="M 406.80 1133.40 L 406.58 1133.90 L 406.36 1134.39 L 406.12 1134.89 L 405.87 1135.39 L 405.61 1135.89 L 405.33 1136.39 L 405.05 1136.89 L 404.76 1137.39 L 404.45 1137.89 L 404.14 1138.39 L 403.82 1138.89 L 403.49 1139.39 L 403.15 1139.89 L 402.80 1140.39 L 402.44 1140.88 L 402.08 1141.38 L 401.70 1141.87 L 401.32 1142.36 L 400.93 1142.85 L 400.54 1143.34 L 400.13 1143.82 L 399.73 1144.30 L 399.31 1144.78 L 398.89 1145.26 L 398.46 1145.73 L 398.03 1146.20 L 397.59 1146.67 L 397.14 1147.13 L 396.69 1147.59 L 396.24 1148.04 L 395.78 1148.49 L 395.32 1148.93 L 394.85 1149.37 L 394.38 1149.81 L 393.91 1150.24 L 393.43 1150.66 L 392.95 1151.08 L 392.47 1151.49 L 391.99 1151.90 L 391.50 1152.30 L 391.08 1152.57 L 390.66 1152.84 L 390.24 1153.09 L 389.81 1153.33 L 389.38 1153.57 L 388.94 1153.80 L 388.51 1154.02 L 388.07 1154.23 L 387.63 1154.44 L 387.19 1154.63 L 386.75 1154.83 L 386.31 1155.01 L 385.87 1155.20 L 385.43 1155.37 L 385.00 1155.54 L 384.56 1155.71 L 384.14 1155.88 L 383.71 1156.04 L 383.29 1156.20 L 382.88 1156.35 L 382.47 1156.50 L 382.06 1156.65 L 381.67 1156.80 L 381.28 1156.95 L 380.89 1157.10 L 380.52 1157.25 L 380.16 1157.39 L 379.80 1157.54 L 379.46 1157.69 L 379.12 1157.84 L 378.80 1157.99 L 378.49 1158.15 L 378.19 1158.30 L 377.91 1158.46 L 377.64 1158.62 L 377.38 1158.79 L 377.14 1158.96 L 376.91 1159.14 L 376.70 1159.32 L 376.50 1159.50 L 375.17 1160.46 L 373.85 1161.43 L 373.39 1162.35 L 373.19 1163.12 L 373.10 1164.07 L 373.10 1168.61 L 373.10 1173.22 L 373.10 1177.83 L 373.10 1182.44 L 373.10 1187.05 L 373.10 1191.66 L 373.10 1196.27 L 373.10 1200.88 L 373.10 1205.49 L 373.10 1210.10 L 373.10 1214.71 L 373.10 1219.32 L 373.10 1223.93 L 373.10 1228.54 L 373.10 1233.15 L 373.10 1237.76 L 373.10 1242.37 L 373.10 1246.98 L 373.10 1251.59 L 373.10 1256.13 L 373.19 1257.17 L 373.40 1257.99 L 373.71 1258.66 L 374.14 1259.25 L 374.73 1259.79 L 375.52 1260.31 L 376.57 1260.79 L 378.04 1261.24 L 378.62 1261.41 L 379.27 1261.61 L 379.91 1261.83 L 380.55 1262.07 L 381.18 1262.31 L 381.80 1262.58 L 382.42 1262.85 L 383.02 1263.14 L 383.63 1263.44 L 384.22 1263.76 L 384.80 1264.09 L 385.38 1264.43 L 385.95 1264.78 L 386.52 1265.15 L 387.07 1265.53 L 387.62 1265.93 L 388.16 1266.33 L 388.69 1266.75 L 389.22 1267.18 L 389.74 1267.63 L 390.25 1268.08 L 390.76 1268.55 L 391.25 1269.03 L 391.75 1269.52 L 392.23 1270.02 L 392.71 1270.53 L 393.18 1271.06 L 393.64 1271.59 L 394.10 1272.14 L 394.55 1272.70 L 395.00 1273.27 L 395.44 1273.85 L 395.87 1274.44 L 396.30 1275.04 L 396.72 1275.65 L 397.14 1276.28 L 397.55 1276.91 L 397.96 1277.56 L 398.36 1278.21 L 398.72 1278.81 L 399.14 1279.47 L 399.58 1280.13 L 400.02 1280.79 L 400.47 1281.44 L 400.93 1282.07 L 401.40 1282.70 L 401.87 1283.31 L 402.35 1283.91 L 402.83 1284.50 L 403.33 1285.07 L 403.83 1285.63 L 404.34 1286.18 L 404.85 1286.71 L 405.38 1287.23 L 405.91 1287.73 L 406.45 1288.22 L 407.01 1288.69 L 407.56 1289.14 L 408.13 1289.58 L 408.71 1290.00 L 409.30 1290.40 L 409.90 1290.79 L 410.50 1291.16 L 411.12 1291.51 L 411.75 1291.84 L 412.39 1292.16 L 413.05 1292.45 L 413.71 1292.73 L 414.39 1292.98 L 415.08 1293.22 L 415.79 1293.44 L 416.51 1293.63 L 417.25 1293.81 L 418.00 1293.96 L 418.77 1294.09 L 419.56 1294.20 L 420.37 1294.29 L 421.19 1294.35 L 422.04 1294.39 L 422.95 1294.40" stroke="#000" stroke-width="1.5" fill="none" stroke-linejoin="round" stroke-linecap="round"/><path d="M 376.6 1155.9 L 377.4 1159.3 M 376.8 1264.5 L 377.8 1261.2 M 396.6 1280.5 L 399.2 1278.6" stroke="#000" stroke-width="1.3" fill="none" stroke-linejoin="round" stroke-linecap="round"/></g>
<path d="M 407.9 1122 C 408.5 1128 407.5 1134 402.3 1141.5 C 400 1145 398.7 1152 398.7 1160 C 398.7 1174 409 1184.7 422.5 1184.7 C 436 1184.7 447.7 1174 447.7 1162 C 447.7 1152 444 1146 441 1141.5 C 437.5 1135 436.5 1128 437.1 1122" stroke="#000" stroke-width="1.8" fill="none" stroke-linejoin="round" stroke-linecap="round" />
<line x1="362.8" y1="1210.3" x2="483.5" y2="1210.3" stroke="#444" stroke-width="1.15" fill="none" stroke-dasharray="28.5 7 5 7" stroke-dashoffset="45.30"/>
<line x1="338.4" y1="1122" x2="338.4" y2="1297.5" stroke="#3a3a3a" stroke-width="1.15" fill="none" />
<polygon points="338.4,1122.0 335.6,1136.5 341.2,1136.5" fill="#111"/>
<polygon points="338.4,1297.5 335.6,1283.0 341.2,1283.0" fill="#111"/>
<line x1="335.7" y1="1122" x2="419" y2="1122" stroke="#3a3a3a" stroke-width="1.15" fill="none" />
<line x1="209" y1="1297.5" x2="419" y2="1297.5" stroke="#3a3a3a" stroke-width="1.15" fill="none" />
<text transform="translate(333.2,1259.1) rotate(-90)" x="-1.66" y="0" textLength="38.67" lengthAdjust="spacingAndGlyphs" fill="#0a0a0a" stroke="#fff" stroke-width="0.4"><tspan font-size="39.00">65</tspan></text>
<text transform="translate(333.2,1259.1) rotate(-90)" x="37.70" y="0" textLength="59.19" lengthAdjust="spacingAndGlyphs" fill="#0a0a0a" stroke="#fff" stroke-width="0.4"><tspan font-size="33.12">mm</tspan></text>
<line x1="224.4" y1="1364.3" x2="476.4" y2="1364.3" stroke="#3a3a3a" stroke-width="1.15" fill="none" />
<polygon points="367.4,1364.3 381.9,1361.5 381.9,1367.1" fill="#111"/>
<polygon points="476.0,1364.3 461.5,1361.5 461.5,1367.1" fill="#111"/>
<line x1="367.4" y1="1212" x2="367.4" y2="1366" stroke="#3a3a3a" stroke-width="1.15" fill="none" />
<line x1="476" y1="1257" x2="476" y2="1366" stroke="#3a3a3a" stroke-width="1.15" fill="none" />
<text x="223.25" y="1360.1" textLength="67.06" lengthAdjust="spacingAndGlyphs" fill="#0a0a0a" stroke="#fff" stroke-width="0.4"><tspan font-size="38.85">40.2</tspan></text>
<text x="290.40" y="1360.1" textLength="59.19" lengthAdjust="spacingAndGlyphs" fill="#0a0a0a" stroke="#fff" stroke-width="0.4"><tspan font-size="38.22">mm</tspan></text>
<path d="M 856 241.8 L 895.5 231.2 Q 898 230.5 898.5 228.5 L 898.5 363.4 Q 898 361.5 895.5 360.6 L 856 350 Z" stroke="#000" stroke-width="1.8" fill="none" stroke-linejoin="round" stroke-linecap="round" />
<path d="M 899.1 181.5 L 931 178 L 931 413.8 L 899.1 410.2 Z M 899.1 223.2 L 931 223.2 M 899.1 368.2 L 931 368.2" stroke="#000" stroke-width="1.8" fill="none" stroke-linejoin="round" stroke-linecap="round" />
<rect x="952.8" y="219.2" width="69.4" height="153.1" rx="15" stroke="#000" stroke-width="1.8" fill="none" stroke-linejoin="round" stroke-linecap="round"/>
<circle cx="987.5" cy="241" r="11" stroke="#000" stroke-width="1.5" fill="none" stroke-linejoin="round" stroke-linecap="round"/>
<circle cx="987.5" cy="241" r="8" stroke="#000" stroke-width="1.3" fill="none" stroke-linejoin="round" stroke-linecap="round"/>
<circle cx="987.5" cy="350.6" r="11" stroke="#000" stroke-width="1.5" fill="none" stroke-linejoin="round" stroke-linecap="round"/>
<circle cx="987.5" cy="350.6" r="8" stroke="#000" stroke-width="1.3" fill="none" stroke-linejoin="round" stroke-linecap="round"/>
<path d="M 965.9 281 C 971 274.5 979 270.2 987.5 270.2 C 996 270.2 1004 274.5 1009.2 281 L 1009.2 310 C 1004 316.5 996 321.4 987.5 321.4 C 979 321.4 971 316.5 965.9 310 Z" stroke="#000" stroke-width="2.9" fill="none" stroke-linejoin="round" stroke-linecap="round"/>
<circle cx="987.5" cy="278.8" r="4" stroke="#000" stroke-width="1.4" fill="none" stroke-linejoin="round" stroke-linecap="round"/>
<circle cx="987.5" cy="313" r="4" stroke="#000" stroke-width="1.4" fill="none" stroke-linejoin="round" stroke-linecap="round"/>
<path d="M 1044.2 296 L 1044.2 207.8 L 1063.3 207.8 C 1066 207.8 1068 208.5 1069 209.9 C 1070 211 1070.5 214 1071.8 214.8 C 1073 216.5 1075 217 1077.5 217 L 1084.6 217.4 C 1086.5 217.6 1087.5 219 1088.9 220.5 C 1091 222.5 1093.5 224.5 1096 225.5 C 1098.5 226.5 1101 227 1101.6 228.3 C 1102.5 230 1103 231.2 1104.4 231.8 C 1106 233.5 1108 235 1112.7 236.8 L 1112.7 296 M 1065 207.8 L 1065 296 M 1070.4 213.5 L 1070.4 296 M 1077.5 217 L 1077.5 296 M 1086 218 L 1086 296 M 1103.7 230.4 L 1103.7 296" stroke="#000" stroke-width="1.8" fill="none" stroke-linejoin="round" stroke-linecap="round"/>
<g transform="matrix(1 0 0 -1 0 591.4)"><path d="M 1044.2 296 L 1044.2 207.8 L 1063.3 207.8 C 1066 207.8 1068 208.5 1069 209.9 C 1070 211 1070.5 214 1071.8 214.8 C 1073 216.5 1075 217 1077.5 217 L 1084.6 217.4 C 1086.5 217.6 1087.5 219 1088.9 220.5 C 1091 222.5 1093.5 224.5 1096 225.5 C 1098.5 226.5 1101 227 1101.6 228.3 C 1102.5 230 1103 231.2 1104.4 231.8 C 1106 233.5 1108 235 1112.7 236.8 L 1112.7 296 M 1065 207.8 L 1065 296 M 1070.4 213.5 L 1070.4 296 M 1077.5 217 L 1077.5 296 M 1086 218 L 1086 296 M 1103.7 230.4 L 1103.7 296" stroke="#000" stroke-width="1.8" fill="none" stroke-linejoin="round" stroke-linecap="round"/></g>
<line x1="850" y1="296" x2="1113" y2="296" stroke="#444" stroke-width="1.15" fill="none" stroke-dasharray="28 7 5 7" stroke-dashoffset="38.80"/>
<line x1="1113" y1="296" x2="1326" y2="296" stroke="#3a3a3a" stroke-width="1.15" fill="none" />
<line x1="931" y1="96" x2="931" y2="178" stroke="#3a3a3a" stroke-width="1.15" fill="none" />
<line x1="1043.2" y1="96" x2="1043.2" y2="207.8" stroke="#3a3a3a" stroke-width="1.15" fill="none" />
<line x1="931" y1="97.8" x2="1043.2" y2="97.8" stroke="#3a3a3a" stroke-width="1.15" fill="none" />
<polygon points="931.0,97.8 945.5,95.0 945.5,100.6" fill="#111"/>
<polygon points="1043.2,97.8 1028.7,95.0 1028.7,100.6" fill="#111"/>
<text x="903.42" y="93.9" textLength="105.09" lengthAdjust="spacingAndGlyphs" fill="#0a0a0a" stroke="#fff" stroke-width="0.4"><tspan font-size="39.45">35~45</tspan></text>
<text x="1009.10" y="93.9" textLength="59.19" lengthAdjust="spacingAndGlyphs" fill="#0a0a0a" stroke="#fff" stroke-width="0.4"><tspan font-size="38.64">mm</tspan></text>
<line x1="739.3" y1="141.2" x2="931" y2="141.2" stroke="#3a3a3a" stroke-width="1.15" fill="none" />
<polygon points="857.0,141.2 871.5,138.4 871.5,144.0" fill="#111"/>
<polygon points="931.0,141.2 916.5,138.4 916.5,144.0" fill="#111"/>
<line x1="856.5" y1="139" x2="856.5" y2="241.8" stroke="#3a3a3a" stroke-width="1.15" fill="none" />
<text x="738.56" y="137.7" textLength="39.54" lengthAdjust="spacingAndGlyphs" fill="#0a0a0a" stroke="#fff" stroke-width="0.4"><tspan font-size="38.09">28</tspan></text>
<text x="778.80" y="137.7" textLength="59.19" lengthAdjust="spacingAndGlyphs" fill="#0a0a0a" stroke="#fff" stroke-width="0.4"><tspan font-size="34.61">mm</tspan></text>
<line x1="1043.2" y1="141.2" x2="1257" y2="141.2" stroke="#3a3a3a" stroke-width="1.15" fill="none" />
<polygon points="1043.2,141.2 1057.7,138.4 1057.7,144.0" fill="#111"/>
<polygon points="1113.0,141.2 1098.5,138.4 1098.5,144.0" fill="#111"/>
<line x1="1112.7" y1="139" x2="1112.7" y2="236.8" stroke="#3a3a3a" stroke-width="1.15" fill="none" />
<text x="1128.83" y="138.1" textLength="66.31" lengthAdjust="spacingAndGlyphs" fill="#0a0a0a" stroke="#fff" stroke-width="0.4"><tspan font-size="38.85">25.8</tspan></text>
<text x="1195.90" y="138.1" textLength="59.19" lengthAdjust="spacingAndGlyphs" fill="#0a0a0a" stroke="#fff" stroke-width="0.4"><tspan font-size="36.31">mm</tspan></text>
<line x1="931" y1="416" x2="931" y2="429" stroke="#444" stroke-width="1.15" fill="none" />
<line x1="931" y1="434.6" x2="931" y2="440.7" stroke="#444" stroke-width="1.15" fill="none" />
<line x1="931" y1="446.8" x2="931" y2="472.7" stroke="#444" stroke-width="1.15" fill="none" />
<line x1="1043.2" y1="383.5" x2="1043.2" y2="459.7" stroke="#444" stroke-width="1.15" fill="none" />
<line x1="1043.2" y1="479.5" x2="1043.2" y2="500" stroke="#444" stroke-width="1.15" fill="none" />
<line x1="1043.2" y1="520" x2="1043.2" y2="536.4" stroke="#444" stroke-width="1.15" fill="none" />
<path d="M 930.7 474 L 903 477.5 Q 896 479 895 487 Q 891 600 892.5 700 Q 893 740 895 771 L 930.7 769.5 Z M 895 538 L 930.7 534.4 M 893.5 715.8 L 930.7 718.5" stroke="#000" stroke-width="1.8" fill="none" stroke-linejoin="round" stroke-linecap="round" />
<path d="M 887 655 C 870 645 850 641 834 641.4 C 815 642 798 648 784 657.3 L 786.3 660.7 C 800 653 817 649 834 649 C 852 649 870 654 885 661 Q 890 659 887 655 Z" stroke="#000" stroke-width="1.6" fill="none" stroke-linejoin="round" stroke-linecap="round"/>
<path d="M 849.8 651 L 877 691.3 L 890.6 698 M 888.2 655.5 Q 886 666 888.5 674.5 L 891 677.5" stroke="#000" stroke-width="1.5" fill="none" stroke-linejoin="round" stroke-linecap="round"/>
<path d="M 891 735.5 C 875 737.5 860 739.5 849.2 741.3 C 825 745 805 760 790 777 C 775 795 763 818 761.3 847.6 C 760.5 865 765 885 770.4 900 C 778 930 795 975 813.6 1014.1 C 828 1042 848 1070 866 1090 C 874 1099 882 1108 885.3 1116.8" stroke="#000" stroke-width="1.6" fill="none" stroke-linejoin="round" stroke-linecap="round"/>
<path d="M 816 755 C 805 763 797 771 792.5 776.7 C 784 788 778 800 775 812 C 771 826 770.5 845 771.3 861.7 C 772 875 774 888 777.7 900 C 782 918 789 935 795 950 C 805 978 825 1020 847.8 1058.1 C 860 1077 872 1091 883.7 1103.7" stroke="#000" stroke-width="1.4" fill="none" stroke-linejoin="round" stroke-linecap="round"/>
<path d="M 930 771 L 849.2 773.2 C 828 775 812 786 803 799 C 795 810 791 820 791.1 835 C 791.1 855 793 880 797 905 C 803 945 825 1000 847.8 1040.2 C 860 1062 873 1078 885.3 1090.7 C 895 1101 906 1112 915 1116 C 920 1118 925 1119 930.9 1119.2" stroke="#000" stroke-width="1.6" fill="none" stroke-linejoin="round" stroke-linecap="round"/>
<path d="M 901.5 1118.6 L 930.4 1118.6 L 930.4 1297 L 905 1293.7 Q 900 1292 899.8 1285 L 899.8 1189.6 Q 899.8 1140 901.5 1118.6" stroke="#000" stroke-width="1.8" fill="none" stroke-linejoin="round" stroke-linecap="round" />
<path d="M 886.6 1117 C 884 1130 872 1140 875 1158 C 877 1172 888 1180 893 1185.4 L 899.4 1189.6" stroke="#000" stroke-width="1.6" fill="none" stroke-linejoin="round" stroke-linecap="round"/>
<rect x="930.4" y="1202.4" width="66.7" height="14.8" stroke="#000" stroke-width="1.5" fill="none" stroke-linejoin="round" stroke-linecap="round"/>
<path d="M 1043.9 1175.6 L 1057 1175.6 Q 1061 1176 1061 1180 L 1061 1242 Q 1061 1246 1057 1246 L 1043.9 1246 Z M 1061 1185 Q 1066 1210 1061 1237 M 1055 1176 L 1055 1246" stroke="#000" stroke-width="1.5" fill="none" stroke-linejoin="round" stroke-linecap="round"/>
<line x1="888.7" y1="1210" x2="1326" y2="1210" stroke="#3a3a3a" stroke-width="1.15" fill="none" />
<rect x="953" y="559.8" width="69" height="153" rx="15" stroke="#000" stroke-width="1.8" fill="none" stroke-linejoin="round" stroke-linecap="round"/>
<circle cx="987" cy="581.3" r="11" stroke="#000" stroke-width="1.5" fill="none" stroke-linejoin="round" stroke-linecap="round"/>
<circle cx="987" cy="581.3" r="8" stroke="#000" stroke-width="1.3" fill="none" stroke-linejoin="round" stroke-linecap="round"/>
<circle cx="987" cy="691.3" r="11" stroke="#000" stroke-width="1.5" fill="none" stroke-linejoin="round" stroke-linecap="round"/>
<circle cx="987" cy="691.3" r="8" stroke="#000" stroke-width="1.3" fill="none" stroke-linejoin="round" stroke-linecap="round"/>
<path d="M 1005.8 616.5 L 1005.8 655 M 987 611 C 972 611 961 622 961 636.4 C 961 651 972 662 987 662 C 995 662 1001 659 1005.8 655 M 987 611 C 995 611 1001 613 1005.8 616.5 M 1002 615 Q 998 636 1002 657" stroke="#000" stroke-width="1.8" fill="none" stroke-linejoin="round" stroke-linecap="round" />
<path d="M 1043.6 536.4 L 1064 537.8 Q 1081.4 540 1081.4 550 L 1081.4 726 Q 1081.4 735 1064 736 L 1043.6 737 Z" stroke="#000" stroke-width="1.8" fill="none" stroke-linejoin="round" stroke-linecap="round" />
<path d="M 1081.4 593.6 L 1088.4 602.2 L 1088.4 667.6 L 1081.4 677.2" stroke="#000" stroke-width="1.8" fill="none" stroke-linejoin="round" stroke-linecap="round" />
<rect x="1088.4" y="609.7" width="11.3" height="53.6" stroke="#000" stroke-width="1.8" fill="none" stroke-linejoin="round" stroke-linecap="round"/>
<path d="M 1099.7 610.2 C 1103 612 1105 614 1107.2 614 C 1110 614 1112 612 1114.7 611.8 C 1120 609.5 1124 609.5 1126.5 609.5 C 1131 609.5 1134 612 1137.2 612.9 C 1142 614 1150 615.5 1171.5 615.6 M 1099.7 661.7 C 1103 660 1105 658.5 1107.2 658.5 C 1110 658.5 1112 660 1114.7 660.5 C 1120 662.8 1124 662.8 1126.5 662.8 C 1131 662.8 1134 661 1137.2 660 C 1145 657 1150 655.3 1155.4 655.3 C 1162 655.3 1166 657.5 1171.5 658 M 1114.2 611.8 L 1114.2 660.5 M 1137.2 612.9 L 1137.2 660" stroke="#000" stroke-width="1.8" fill="none" stroke-linejoin="round" stroke-linecap="round" />
<rect x="1171.5" y="603.8" width="23.1" height="79.9" rx="3" stroke="#000" stroke-width="1.8" fill="none" stroke-linejoin="round" stroke-linecap="round"/>
<path d="M 1149 614 C 1150 607 1155 604.5 1161 604.5 C 1166 604.5 1169 606 1171.5 608 M 1160 602.2 L 1208 602.2 C 1215 602.2 1218.5 607 1218 614 C 1217 626 1207 642 1195.5 657 M 1196 615 C 1200 630 1200 645 1196.5 658 M 1197 624 C 1200 616 1206 612.5 1211 612.5 C 1215.5 613 1216.5 617 1215.5 622 C 1213 632 1206 640 1198 644" stroke="#000" stroke-width="1.6" fill="none" stroke-linejoin="round" stroke-linecap="round"/>
<line x1="871.3" y1="636.4" x2="1099.7" y2="636.4" stroke="#3a3a3a" stroke-width="1.15" fill="none" />
<line x1="1119" y1="636.4" x2="1139.4" y2="636.4" stroke="#3a3a3a" stroke-width="1.15" fill="none" />
<line x1="1160.8" y1="636.4" x2="1226" y2="636.4" stroke="#3a3a3a" stroke-width="1.15" fill="none" />
<line x1="1272.3" y1="636.4" x2="1345" y2="636.4" stroke="#3a3a3a" stroke-width="1.15" fill="none" />
<line x1="931" y1="771" x2="931" y2="1118.6" stroke="#444" stroke-width="1.15" fill="none" stroke-dasharray="28.5 7 5 7" stroke-dashoffset="44.10"/>
<line x1="1043.6" y1="737" x2="1043.6" y2="826" stroke="#444" stroke-width="1.15" fill="none" />
<line x1="1043.6" y1="826" x2="1043.6" y2="1175.6" stroke="#444" stroke-width="1.15" fill="none" stroke-dasharray="104 19 19 21" stroke-dashoffset="141.50"/>
<line x1="1043.6" y1="1246" x2="1043.6" y2="1290" stroke="#444" stroke-width="1.15" fill="none" stroke-dasharray="104 19 19 21" stroke-dashoffset="0.00"/>
<line x1="762.9" y1="548" x2="930.3" y2="548" stroke="#3a3a3a" stroke-width="1.15" fill="none" />
<polygon points="762.9,548.0 777.4,545.2 777.4,550.8" fill="#111"/>
<polygon points="930.3,548.0 915.8,545.2 915.8,550.8" fill="#111"/>
<line x1="762.9" y1="546" x2="762.9" y2="826" stroke="#3a3a3a" stroke-width="1.15" fill="none" />
<text x="778.51" y="544.1" textLength="34.67" lengthAdjust="spacingAndGlyphs" fill="#0a0a0a" stroke="#fff" stroke-width="0.4"><tspan font-size="39.15">61</tspan></text>
<text x="817.30" y="544.1" textLength="59.19" lengthAdjust="spacingAndGlyphs" fill="#0a0a0a" stroke="#fff" stroke-width="0.4"><tspan font-size="36.31">mm</tspan></text>
<line x1="1272.3" y1="536.4" x2="1272.3" y2="737" stroke="#3a3a3a" stroke-width="1.15" fill="none" />
<polygon points="1272.3,536.4 1269.5,550.9 1275.1,550.9" fill="#111"/>
<polygon points="1272.3,737.0 1269.5,722.5 1275.1,722.5" fill="#111"/>
<line x1="1060" y1="535.5" x2="1274" y2="535.5" stroke="#3a3a3a" stroke-width="1.15" fill="none" />
<line x1="1060" y1="737" x2="1274" y2="737" stroke="#3a3a3a" stroke-width="1.15" fill="none" />
<text transform="translate(1266.9,685.9) rotate(-90)" x="-2.73" y="0" textLength="41.34" lengthAdjust="spacingAndGlyphs" fill="#0a0a0a" stroke="#fff" stroke-width="0.4"><tspan font-size="36.72">75</tspan></text>
<text transform="translate(1266.9,685.9) rotate(-90)" x="39.20" y="0" textLength="59.19" lengthAdjust="spacingAndGlyphs" fill="#0a0a0a" stroke="#fff" stroke-width="0.4"><tspan font-size="33.33">mm</tspan></text>
<line x1="1042.8" y1="820.4" x2="1217" y2="820.4" stroke="#3a3a3a" stroke-width="1.15" fill="none" />
<polygon points="1042.8,820.4 1057.3,817.6 1057.3,823.2" fill="#111"/>
<polygon points="1217.0,820.4 1202.5,817.6 1202.5,823.2" fill="#111"/>
<line x1="1217.1" y1="622" x2="1217.1" y2="822" stroke="#3a3a3a" stroke-width="1.15" fill="none" />
<text x="1085.01" y="816.1" textLength="36.93" lengthAdjust="spacingAndGlyphs" fill="#0a0a0a" stroke="#fff" stroke-width="0.4"><tspan font-size="39.15">65</tspan></text>
<text x="1122.70" y="816.1" textLength="59.19" lengthAdjust="spacingAndGlyphs" fill="#0a0a0a" stroke="#fff" stroke-width="0.4"><tspan font-size="36.31">mm</tspan></text>
<line x1="1324.7" y1="296" x2="1324.7" y2="1210" stroke="#3a3a3a" stroke-width="1.15" fill="none" />
<polygon points="1324.7,296.0 1321.9,310.5 1327.5,310.5" fill="#111"/>
<polygon points="1324.7,636.4 1321.9,621.9 1327.5,621.9" fill="#111"/>
<polygon points="1324.7,636.4 1321.9,650.9 1327.5,650.9" fill="#111"/>
<polygon points="1324.7,1210.0 1321.9,1195.5 1327.5,1195.5" fill="#111"/>
<text transform="translate(1320,497.9) rotate(-90)" x="-3.39" y="0" textLength="57.90" lengthAdjust="spacingAndGlyphs" fill="#0a0a0a" stroke="#fff" stroke-width="0.4"><tspan font-size="37.78">127</tspan></text>
<text transform="translate(1320,497.9) rotate(-90)" x="55.60" y="0" textLength="59.19" lengthAdjust="spacingAndGlyphs" fill="#0a0a0a" stroke="#fff" stroke-width="0.4"><tspan font-size="30.79">mm</tspan></text>
<text transform="translate(1318.9,982.2) rotate(-90)" x="-1.73" y="0" textLength="59.15" lengthAdjust="spacingAndGlyphs" fill="#0a0a0a" stroke="#fff" stroke-width="0.4"><tspan font-size="36.42">214</tspan></text>
<text transform="translate(1318.9,982.2) rotate(-90)" x="59.00" y="0" textLength="59.19" lengthAdjust="spacingAndGlyphs" fill="#0a0a0a" stroke="#fff" stroke-width="0.4"><tspan font-size="29.72">mm</tspan></text>
</svg></body></html>
